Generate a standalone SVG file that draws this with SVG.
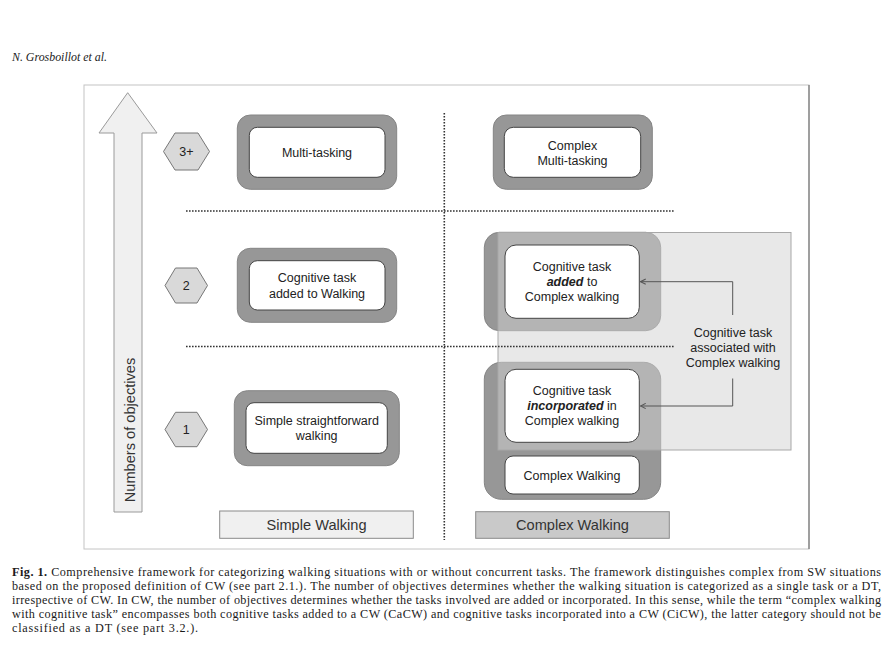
<svg xmlns="http://www.w3.org/2000/svg" width="891" height="652" viewBox="0 0 891 652">
<defs>
<style>
.t{font-family:"Liberation Sans",Arial,sans-serif;font-size:12.5px;fill:#222;text-anchor:middle}
.lbl{font-family:"Liberation Sans",Arial,sans-serif;font-size:14.6px;fill:#333;text-anchor:middle}
.outer{fill:#979797;stroke:#858585;stroke-width:1}
.inner{fill:#fff;stroke:#444;stroke-width:1}
.hex{fill:#d9d9d9;stroke:#777;stroke-width:1}
.dot{stroke:#333;stroke-width:1.6;stroke-dasharray:1.6 1.4;fill:none}
.conn{stroke:#555;stroke-width:1;fill:none}
.cap{font-family:"Liberation Serif","Times New Roman",serif;font-size:12.2px;fill:#1a1a1a}
</style>
<marker id="ah" viewBox="0 0 8 8" refX="7" refY="4" markerWidth="7" markerHeight="7" orient="auto" markerUnits="userSpaceOnUse">
<path d="M1,1 L7,4 L1,7" fill="none" stroke="#555" stroke-width="1.2"/>
</marker>
</defs>
<rect width="891" height="652" fill="#fff"/>
<text x="12" y="61" font-family="'Liberation Serif','Times New Roman',serif" font-style="italic" font-size="11.5" fill="#222" textLength="95" lengthAdjust="spacingAndGlyphs">N. Grosboillot et al.</text>

<g id="frame">
<rect x="84" y="85" width="725" height="464" fill="none" stroke="#c4c4c4" stroke-width="1"/>
<line x1="809" y1="85" x2="809" y2="549" stroke="#888" stroke-width="1.5"/>
</g>

<g id="axis-arrow">
<polygon points="127.7,92.7 157,133 142,133 142,512 114,512 114,133 99,133" fill="#f0f0f0" stroke="#9a9a9a" stroke-width="1"/>
<text class="lbl" transform="translate(135,430) rotate(-90)" x="0" y="0">Numbers of objectives</text>
</g>

<g id="hex-3">
<polygon class="hex" points="163.5,151.5 175,133 198,133 209.5,151.5 198,170 175,170"/>
<text class="t" x="186.5" y="156">3+</text>
</g>
<g id="hex-2">
<polygon class="hex" points="165,285.5 175.5,268 197,268 207.5,285.5 197,303 175.5,303"/>
<text class="t" x="186.3" y="290">2</text>
</g>
<g id="hex-1">
<polygon class="hex" points="165,429.5 175.5,412.3 197,412.3 207.5,429.5 197,446.7 175.5,446.7"/>
<text class="t" x="186.3" y="434">1</text>
</g>

<g id="multi-tasking">
<rect class="outer" x="237.3" y="115" width="159.4" height="74.3" rx="13"/>
<rect class="inner" x="249.3" y="127.3" width="135.7" height="50" rx="8"/>
<text class="t" x="317" y="156.5">Multi-tasking</text>
</g>

<g id="cog-added-walking">
<rect class="outer" x="237.3" y="248.3" width="159.4" height="74" rx="13"/>
<rect class="inner" x="249.3" y="260.7" width="135.7" height="49.3" rx="8"/>
<text class="t" x="317" y="282">Cognitive task</text>
<text class="t" x="317" y="297.5">added to Walking</text>
</g>

<g id="simple-walking-node">
<rect class="outer" x="234.3" y="390.7" width="165" height="75" rx="13"/>
<rect class="inner" x="246" y="402.7" width="141.3" height="50.6" rx="8"/>
<text class="t" x="316.7" y="424.5">Simple straightforward</text>
<text class="t" x="316.7" y="439.5">walking</text>
</g>

<g id="complex-multi-tasking">
<rect class="outer" x="493.3" y="115" width="159" height="74.3" rx="13"/>
<rect class="inner" x="504.3" y="127.3" width="136.4" height="50" rx="9"/>
<text class="t" x="572.5" y="149.5">Complex</text>
<text class="t" x="572.5" y="164.5">Multi-tasking</text>
</g>

<g id="outer-added-complex">
<rect class="outer" x="484.3" y="232.3" width="176.4" height="98.4" rx="15"/>
</g>
<g id="outer-incorporated-complex">
<rect class="outer" x="484.3" y="362.3" width="176.4" height="137" rx="17"/>
</g>

<g id="associated-zone">
<rect x="498" y="232.5" width="293" height="217.5" fill="#d2d2d2" fill-opacity="0.5" stroke="#a8a8a8" stroke-width="1"/>
</g>

<g id="cog-added-complex">
<rect class="inner" x="505" y="245" width="134.3" height="73.3" rx="11"/>
<text class="t" x="572" y="270.5">Cognitive task</text>
<text class="t" x="572" y="285.5"><tspan font-weight="bold" font-style="italic">added</tspan> to</text>
<text class="t" x="572" y="301">Complex walking</text>
</g>

<g id="cog-incorporated-complex">
<rect class="inner" x="505" y="369.3" width="134.3" height="73" rx="11"/>
<text class="t" x="572" y="395">Cognitive task</text>
<text class="t" x="572" y="410"><tspan font-weight="bold" font-style="italic">incorporated</tspan> in</text>
<text class="t" x="572" y="425">Complex walking</text>
</g>

<g id="complex-walking-node">
<rect class="inner" x="505" y="456" width="134.3" height="38" rx="8"/>
<text class="t" x="572" y="479.5">Complex Walking</text>
</g>

<g id="dividers">
<line class="dot" x1="186" y1="211" x2="675" y2="211"/>
<line class="dot" x1="186" y1="346.5" x2="675" y2="346.5"/>
<line class="dot" x1="444.3" y1="113" x2="444.3" y2="540"/>
</g>

<g id="connectors">
<polyline class="conn" points="732.7,315 732.7,281.7 640.5,281.7" marker-end="url(#ah)"/>
<polyline class="conn" points="732.7,378.5 732.7,406 640.5,406" marker-end="url(#ah)"/>
</g>

<g id="associated-label">
<text class="t" x="733" y="337">Cognitive task</text>
<text class="t" x="733" y="351.5">associated with</text>
<text class="t" x="733" y="366.5">Complex walking</text>
</g>

<g id="simple-walking-label">
<rect x="219.7" y="511" width="193.6" height="27.3" fill="#f0f0f0" stroke="#8a8a8a" stroke-width="1"/>
<text class="lbl" x="316.5" y="530">Simple Walking</text>
</g>
<g id="complex-walking-label">
<rect x="475.7" y="511.7" width="193.6" height="26.6" fill="#c9c9c9" stroke="#8a8a8a" stroke-width="1"/>
<text class="lbl" x="572.5" y="530">Complex Walking</text>
</g>

<g id="caption">
<text class="cap" x="12" y="576" textLength="869" lengthAdjust="spacing"><tspan font-weight="bold">Fig. 1.</tspan> Comprehensive framework for categorizing walking situations with or without concurrent tasks. The framework distinguishes complex from SW situations</text>
<text class="cap" x="12" y="590" textLength="869" lengthAdjust="spacing">based on the proposed definition of CW (see part 2.1.). The number of objectives determines whether the walking situation is categorized as a single task or a DT,</text>
<text class="cap" x="12" y="604" textLength="869" lengthAdjust="spacing">irrespective of CW. In CW, the number of objectives determines whether the tasks involved are added or incorporated. In this sense, while the term “complex walking</text>
<text class="cap" x="12" y="618" textLength="869" lengthAdjust="spacing">with cognitive task” encompasses both cognitive tasks added to a CW (CaCW) and cognitive tasks incorporated into a CW (CiCW), the latter category should not be</text>
<text class="cap" x="12" y="632" textLength="186" lengthAdjust="spacing">classified as a DT (see part 3.2.).</text>
</g>
</svg>
